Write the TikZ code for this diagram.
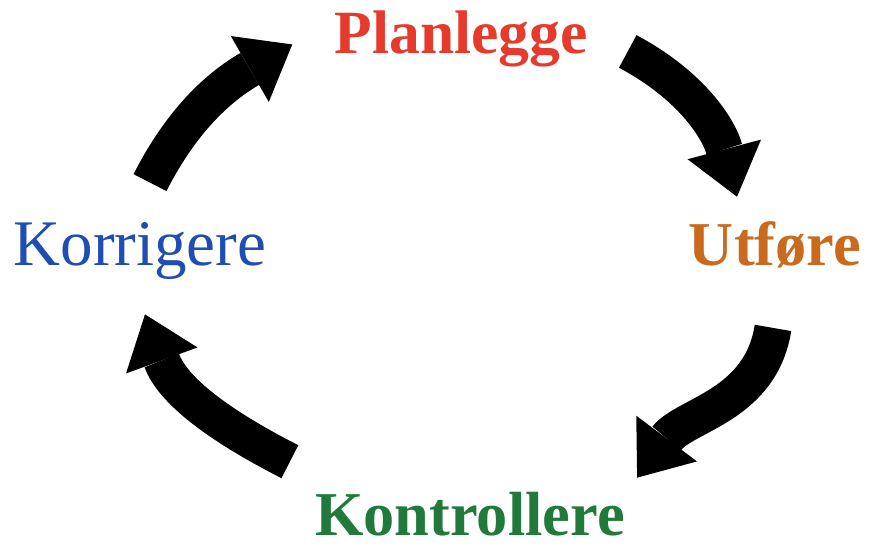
\documentclass[tikz,border=0pt]{standalone}
\usepackage{fontspec}
\setmainfont{Liberation Serif}
\usepackage{tikz}
\usetikzlibrary{arrows.meta}

\definecolor{planred}{RGB}{229,58,44}
\definecolor{utforange}{RGB}{201,106,31}
\definecolor{kontgreen}{RGB}{33,122,59}
\definecolor{korrblue}{RGB}{30,77,179}

\tikzset{
	stage/.style={inner sep=0pt, anchor=base, font=\fontsize{35.5}{40}\selectfont\bfseries},
	cyclearrow/.style={line width=7.4mm, color=black, -{Triangle[length=9.8mm, width=15.2mm, line width=0pt]}}
}

\begin{document}
\begin{tikzpicture}[x=0.2mm, y=0.2mm]

		\useasboundingbox (0,0) rectangle (873,-546);

		\node[stage, text=planred, font=\fontsize{35}{40}\selectfont\bfseries] (plan) at (461,-53) {Planlegge};
		\node[stage, text=utforange] (utf) at (775,-265) {Utføre};
		\node[stage, text=kontgreen] (kont) at (470,-535) {Kontrollere};
		\node[stage, text=korrblue, font=\fontsize{37}{40}\selectfont] (korr) at (140,-265) {Korrigere};

		% the cycle
		\draw[cyclearrow] ([shift={(10,39)}]korr.north) to[out=63, in=210] ([shift={(-42,-6)}]plan.west);
		\draw[cyclearrow] ([shift={(40,-13)}]plan.east) to[out=-28, in=105] ([shift={(-38,24)}]utf.north);
		\draw[cyclearrow] ([shift={(-2,-60)}]utf.south) to[out=261, in=53] ([shift={(12,36)}]kont.east);
		\draw[cyclearrow] ([shift={(-25,52)}]kont.west) to[out=153, in=290] ([shift={(5,-35)}]korr.south);
	\end{tikzpicture}
\end{document}
